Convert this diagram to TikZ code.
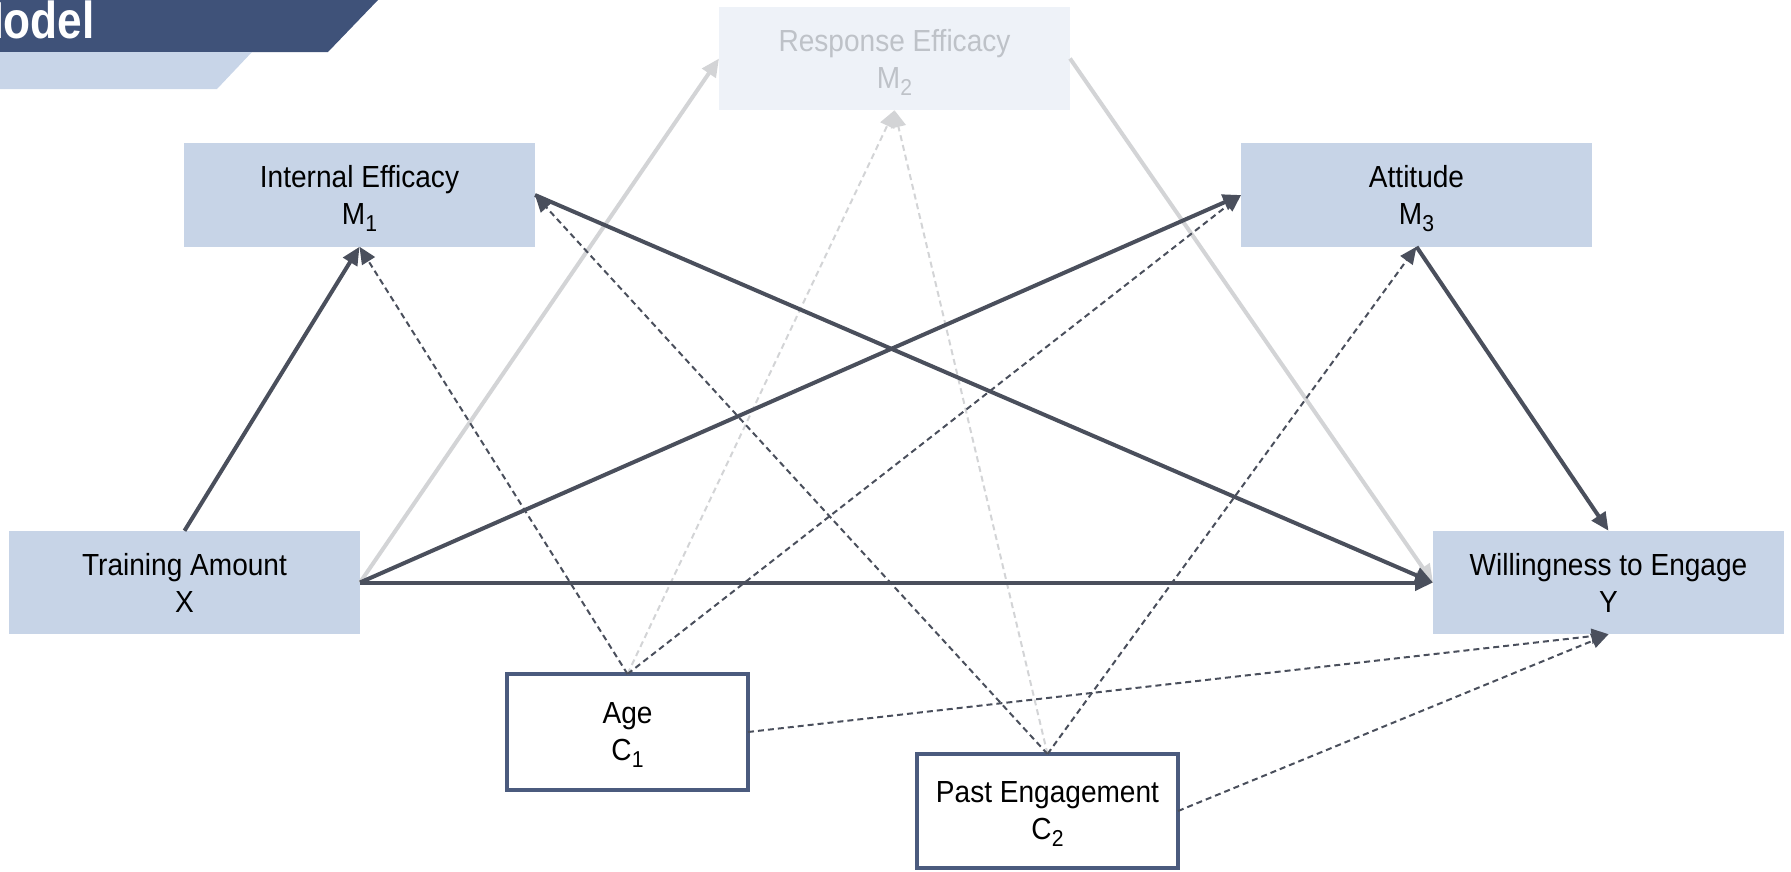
\documentclass[tikz,border=0pt]{standalone}
\usepackage{fontspec}
\setmainfont[FakeStretch=0.92]{Liberation Sans}
\newfontfamily\bannerfont[FakeStretch=0.85]{Liberation Sans}
\usetikzlibrary{arrows.meta}

\definecolor{boxfill}{HTML}{C7D4E7}
\definecolor{fadedfill}{HTML}{EEF2F8}
\definecolor{fadedtext}{HTML}{BEC2C8}
\definecolor{edgedark}{HTML}{4A4F5C}
\definecolor{edgelight}{HTML}{D3D4D6}
\definecolor{ctrlborder}{HTML}{4B5B7E}
\definecolor{bannerdark}{HTML}{3F5279}
\definecolor{bannerlight}{HTML}{C8D5E8}

% lowered, smaller index digit after a variable letter
\newcommand\varidx[1]{\smash{\raisebox{-7pt}{\fontsize{23}{23}\selectfont #1}}}

\begin{document}
\begin{tikzpicture}[x=1pt,y=-1pt,
  lbl/.style={font=\fontsize{30.5}{37}\selectfont, align=center, text=black},
  varbox/.style={lbl, fill=boxfill, minimum width=351pt, minimum height=103.5pt,
    inner sep=0pt, outer sep=0pt},
  fadedbox/.style={varbox, fill=fadedfill, text=fadedtext},
  ctrlbox/.style={lbl, draw=ctrlborder, line width=4pt, fill=white,
    inner sep=0pt, outer sep=0pt},
  mainpath/.style={draw=edgedark, line width=4pt, -{Triangle[length=18pt,width=16pt]}},
  fadedpath/.style={draw=edgelight, line width=4pt, -{Triangle[length=18pt,width=16pt]}},
  ctrlpath/.style={draw=edgedark, line width=2pt, dash pattern=on 6pt off 4pt,
    -{Triangle[length=17pt,width=15pt]}},
  fadedctrlpath/.style={draw=edgelight, line width=2pt, dash pattern=on 6pt off 4pt,
    -{Triangle[length=17pt,width=15pt]}},
]
\useasboundingbox (0,0) rectangle (1791,871);
\clip (0,0) rectangle (1791,871);

% title banner
\fill[bannerdark] (0,0) -- (378,0) -- (328,52) -- (0,52) -- cycle;
\fill[bannerlight] (0,52) -- (252,52) -- (217,89) -- (0,89) -- cycle;
\node[anchor=base east, inner sep=0pt, text=white,
  font=\bannerfont\bfseries\fontsize{52}{52}\selectfont] (title) at (95,38) {Model};

% variables
\node[varbox] (M1) at (359.5,195) {Internal Efficacy\\M\varidx{1}};
\node[fadedbox] (M2) at (894.5,58.5) {Response Efficacy\\M\varidx{2}};
\node[varbox] (M3) at (1416.5,195) {Attitude\\M\varidx{3}};
\node[varbox] (X) at (184.5,582.5) {Training Amount\\X};
\node[varbox] (Y) at (1608.5,582.5) {Willingness to Engage\\Y};

% covariates
\node[ctrlbox, minimum width=241pt, minimum height=116pt] (C1) at (627.5,732) {Age\\C\varidx{1}};
\node[ctrlbox, minimum width=261pt, minimum height=114pt] (C2) at (1047.5,811) {Past Engagement\\C\varidx{2}};

% faded paths through response efficacy
\draw[fadedpath] (X.east) -- (M2.west);
\draw[fadedpath] (M2.east) -- (Y.west);
\draw[fadedctrlpath] (C1.north) -- (M2.south);
\draw[fadedctrlpath] (C2.north) -- (M2.south);

% covariate paths
\draw[ctrlpath] (C1.north) -- (M1.south);
\draw[ctrlpath] (C1.north) -- (M3.west);
\draw[ctrlpath] (C1.east) -- (Y.south);
\draw[ctrlpath] (C2.north) -- (M1.east);
\draw[ctrlpath] (C2.north) -- (M3.south);
\draw[ctrlpath] (C2.east) -- (Y.south);

% main paths
\draw[mainpath] (X.north) -- (M1.south);
\draw[mainpath] (X.east) -- (M3.west);
\draw[mainpath] (X.east) -- (Y.west);
\draw[mainpath] (M1.east) -- (Y.west);
\draw[mainpath] (M3.south) -- (Y.north);
\end{tikzpicture}
\end{document}
